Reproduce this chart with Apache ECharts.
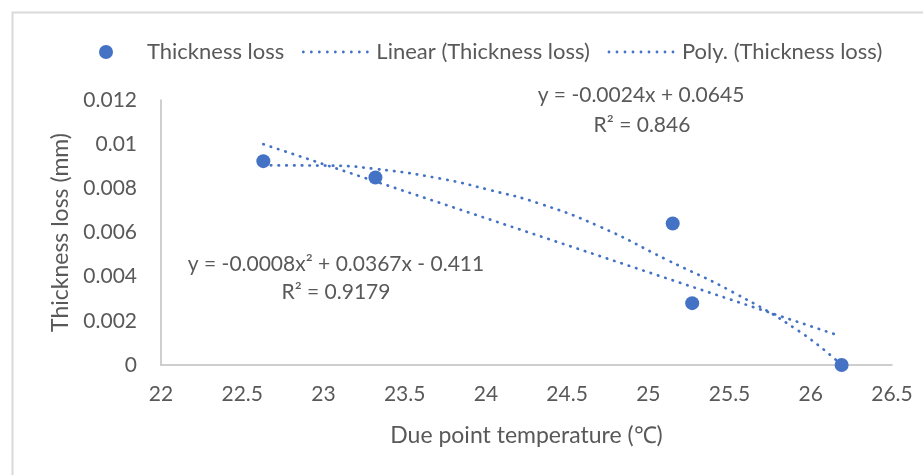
<!DOCTYPE html>
<html>
<head>
<meta charset="utf-8" />
<title>Thickness loss</title>
<script src="https://cdn.jsdelivr.net/npm/echarts@6/dist/echarts.min.js"></script>
<style>
  html, body { margin: 0; padding: 0; background: #fff; }
</style>
</head>
<body>
<div id="main" style="width: 923px;height:475px;"></div>
<script type="text/javascript">
// measured points
var tempX = [22.63, 23.32, 25.15, 25.27, 26.19];
var lossY = [0.00923, 0.00849, 0.00641, 0.0028, 0.0];
// linear trendline, read at its two ends
var linX = [22.63, 26.17];
var linY = [0.0100, 0.00134];
// polynomial trendline
var polyX = [22.63, 23.02, 23.32, 23.72, 24.02, 24.33, 24.70, 25.11, 25.52, 25.93, 26.19];
var polyY = [0.00904, 0.00903, 0.00888, 0.00844, 0.00793, 0.00731, 0.00627, 0.00478, 0.0033, 0.00152, 0.0];
var xTicks = [22, 26.5, 0.5];
var yTicks = [0, 0.012, 0.002];

function pairs(xs, ys) {
  var out = [];
  for (var i = 0; i < xs.length; i++) out.push([xs[i], ys[i]]);
  return out;
}

// dotted legend icon: 9 round dots in a 70x14 box
var dotIcon = 'path://M0,0M70,14';
for (var d = 0; d < 9; d++) {
  var cx = 3 + d * 8;
  dotIcon += 'M' + (cx - 1.4) + ',7a1.4,1.4 0 1,0 2.8,0a1.4,1.4 0 1,0 -2.8,0z';
}

var myChart = echarts.init(document.getElementById('main'));
var blue = '#4472C4';
var grey = '#595959';
var font = 'Lato';
var dotted = { color: blue, width: 2.7, type: [0.5, 7.2], cap: 'round' };

var option = {
  animation: false,
  textStyle: { fontFamily: font, color: grey },
  legend: {
    top: 36,
    left: 94,
    itemGap: 16,
    itemWidth: 70,
    itemHeight: 14,
    textStyle: { fontSize: 22, color: grey, fontFamily: font, padding: [0, 0, 0, 1] },
    data: [
      { name: 'Thickness loss', icon: 'circle' },
      { name: 'Linear (Thickness loss)', icon: dotIcon },
      { name: 'Poly. (Thickness loss)', icon: dotIcon }
    ]
  },
  grid: { left: 161, right: 31, top: 100, bottom: 110, containLabel: false },
  xAxis: {
    type: 'value',
    min: xTicks[0], max: xTicks[1], interval: xTicks[2],
    name: 'Due point temperature (℃)',
    nameLocation: 'middle',
    nameGap: 59,
    nameTextStyle: { fontSize: 23, color: grey, fontFamily: font },
    axisLine: { show: true, lineStyle: { color: '#bfbfbf', width: 1.5 } },
    axisTick: { show: false },
    splitLine: { show: false },
    axisLabel: { fontSize: 21, color: grey, margin: 19, fontFamily: font }
  },
  yAxis: {
    type: 'value',
    min: yTicks[0], max: yTicks[1], interval: yTicks[2],
    name: 'Thickness loss (mm)',
    nameLocation: 'middle',
    nameGap: 88,
    nameTextStyle: { fontSize: 23, color: grey, fontFamily: font },
    axisLine: { show: true, lineStyle: { color: '#bfbfbf', width: 1.5 } },
    axisTick: { show: false },
    splitLine: { show: false },
    axisLabel: { fontSize: 21, color: grey, margin: 24, fontFamily: font }
  },
  graphic: [
    {
      type: 'rect', left: 10, top: 10, z: -1,
      shape: { width: 940, height: 500 },
      style: { fill: 'none', stroke: '#d9d9d9', lineWidth: 2 }
    },
    { type: 'text', x: 641, y: 95, style: { text: 'y = -0.0024x + 0.0645', font: '21px Lato', fill: grey, align: 'center', verticalAlign: 'middle' } },
    { type: 'text', x: 642, y: 125, style: { text: 'R² = 0.846', font: '21px Lato', fill: grey, align: 'center', verticalAlign: 'middle' } },
    { type: 'text', x: 336, y: 264, style: { text: 'y = -0.0008x² + 0.0367x - 0.411', font: '21px Lato', fill: grey, align: 'center', verticalAlign: 'middle' } },
    { type: 'text', x: 336, y: 292, style: { text: 'R² = 0.9179', font: '21px Lato', fill: grey, align: 'center', verticalAlign: 'middle' } }
  ],
  series: [
    {
      name: 'Thickness loss',
      type: 'scatter',
      symbolSize: 14,
      itemStyle: { color: blue, opacity: 1 },
      data: pairs(tempX, lossY),
      z: 3
    },
    {
      name: 'Linear (Thickness loss)',
      type: 'line',
      showSymbol: false,
      symbol: 'none',
      lineStyle: dotted,
      itemStyle: { color: blue },
      data: pairs(linX, linY)
    },
    {
      name: 'Poly. (Thickness loss)',
      type: 'line',
      smooth: true,
      showSymbol: false,
      symbol: 'none',
      lineStyle: dotted,
      itemStyle: { color: blue },
      data: pairs(polyX, polyY)
    }
  ]
};

myChart.setOption(option);
</script>
</body>
</html>
